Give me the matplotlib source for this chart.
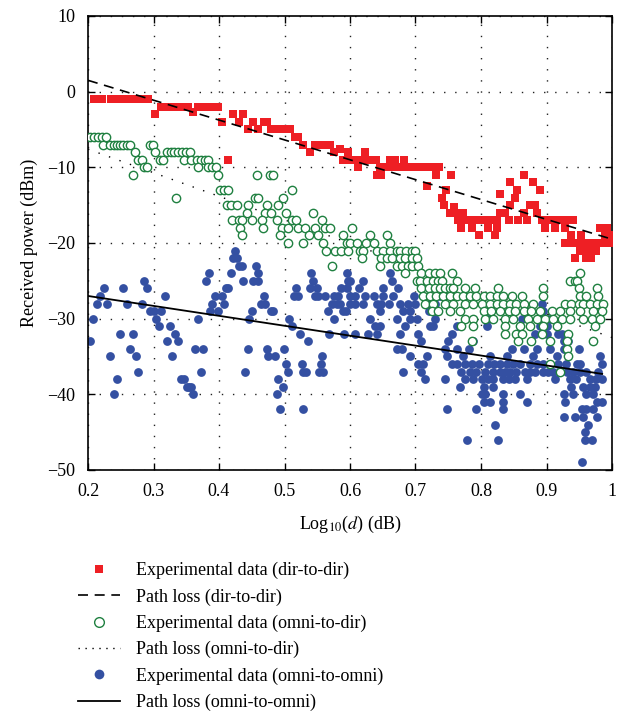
import numpy as np
import matplotlib
matplotlib.use("Agg")
import matplotlib.pyplot as plt
from matplotlib.lines import Line2D

plt.rcParams['font.family'] = ['Liberation Serif', 'DejaVu Serif']
plt.rcParams['mathtext.fontset'] = 'stix'

# dir-to-dir measurements (log10 d, dBm)
dd_pts = [
    (0.209, -1), (0.221, -1), (0.235, -1), (0.246, -1), (0.256, -1), (0.264, -1),
    (0.272, -1), (0.281, -1), (0.292, -1),
    (0.302, -3), (0.312, -2), (0.322, -2), (0.332, -2), (0.343, -2), (0.353, -2),
    (0.361, -2.7), (0.368, -2), (0.379, -2), (0.389, -2), (0.399, -2),
    (0.405, -4), (0.413, -9), (0.422, -3), (0.43, -4), (0.437, -3), (0.445, -5),
    (0.452, -4), (0.46, -5), (0.468, -4), (0.474, -4), (0.48, -5), (0.488, -5),
    (0.496, -5), (0.503, -5), (0.508, -5), (0.516, -6), (0.521, -6), (0.529, -7),
    (0.539, -8), (0.547, -7), (0.554, -7), (0.562, -7), (0.57, -7), (0.575, -8),
    (0.585, -7.6), (0.59, -9), (0.597, -8), (0.6, -9), (0.61, -9), (0.612, -10),
    (0.62, -9), (0.623, -8), (0.63, -9), (0.64, -9), (0.641, -11), (0.646, -10),
    (0.648, -11), (0.656, -10), (0.661, -9), (0.666, -10), (0.669, -9), (0.676, -10),
    (0.683, -9), (0.686, -10), (0.696, -10), (0.706, -10), (0.716, -10), (0.717, -12.5),
    (0.726, -10), (0.732, -11), (0.736, -10), (0.74, -14), (0.744, -15), (0.747, -13),
    (0.753, -16), (0.754, -11), (0.759, -15.3), (0.765, -16), (0.765, -17), (0.769, -18),
    (0.773, -16), (0.775, -17), (0.785, -17), (0.786, -18), (0.795, -17), (0.797, -19),
    (0.805, -17), (0.81, -17), (0.811, -18), (0.815, -17), (0.821, -19), (0.824, -18),
    (0.825, -17), (0.829, -13.5), (0.829, -16), (0.834, -16), (0.836, -16), (0.843, -17),
    (0.844, -12), (0.844, -15), (0.852, -14), (0.855, -13), (0.857, -17), (0.865, -11),
    (0.865, -16), (0.87, -17), (0.875, -15), (0.88, -12), (0.882, -15), (0.885, -16),
    (0.89, -13), (0.893, -17), (0.898, -18), (0.903, -17), (0.913, -17), (0.913, -18),
    (0.923, -17), (0.928, -20), (0.929, -18), (0.933, -17), (0.938, -19), (0.938, -20),
    (0.94, -17), (0.943, -22), (0.948, -20), (0.951, -21), (0.953, -19), (0.958, -20),
    (0.961, -22), (0.964, -21), (0.968, -20), (0.968, -22), (0.975, -21), (0.978, -20),
    (0.982, -18), (0.988, -20), (0.99, -19), (0.992, -18), (0.998, -20), (0.999, -19),
]

# omni-to-dir measurements
od_pts = [
    (0.203, -6), (0.209, -6), (0.216, -6), (0.221, -6), (0.228, -6),
    (0.223, -7), (0.234, -7), (0.239, -7), (0.244, -7), (0.249, -7), (0.254, -7),
    (0.259, -7), (0.264, -7), (0.295, -7), (0.299, -7),
    (0.272, -8), (0.302, -8), (0.32, -8), (0.326, -8), (0.332, -8), (0.338, -8),
    (0.344, -8), (0.35, -8), (0.356, -8),
    (0.277, -9), (0.282, -9), (0.31, -9), (0.314, -9), (0.347, -9), (0.358, -9),
    (0.366, -9), (0.372, -9), (0.378, -9), (0.383, -9),
    (0.286, -10), (0.29, -10), (0.368, -10), (0.383, -10), (0.389, -10), (0.395, -10),
    (0.268, -11), (0.398, -11), (0.458, -11), (0.478, -11), (0.483, -11),
    (0.401, -13), (0.408, -13), (0.414, -13), (0.511, -13),
    (0.335, -14), (0.455, -14), (0.46, -14), (0.498, -14),
    (0.412, -15), (0.419, -15), (0.427, -15), (0.444, -15), (0.473, -15), (0.49, -15),
    (0.442, -16), (0.47, -16), (0.48, -16), (0.503, -16), (0.544, -16),
    (0.42, -17), (0.43, -17), (0.435, -17), (0.45, -17), (0.465, -17), (0.488, -17),
    (0.512, -17), (0.518, -17), (0.557, -17),
    (0.432, -18), (0.467, -18), (0.496, -18), (0.505, -18), (0.521, -18), (0.532, -18),
    (0.546, -18), (0.562, -18), (0.57, -18), (0.603, -18),
    (0.435, -19), (0.493, -19), (0.537, -19), (0.551, -19), (0.59, -19), (0.63, -19),
    (0.656, -19),
    (0.506, -20), (0.529, -20), (0.559, -20), (0.595, -20), (0.6, -20), (0.61, -20),
    (0.625, -20), (0.636, -20), (0.661, -20),
    (0.564, -21), (0.577, -21), (0.587, -21), (0.597, -21), (0.615, -21), (0.62, -21),
    (0.641, -21), (0.651, -21), (0.661, -21), (0.671, -21), (0.676, -21), (0.685, -21),
    (0.694, -21), (0.699, -21),
    (0.618, -22), (0.648, -22), (0.656, -22), (0.664, -22), (0.676, -22), (0.684, -22),
    (0.694, -22), (0.702, -22),
    (0.572, -23), (0.646, -23), (0.671, -23), (0.679, -23), (0.689, -23), (0.694, -23),
    (0.704, -23),
    (0.684, -24), (0.709, -24), (0.72, -24), (0.73, -24), (0.737, -24), (0.755, -24),
    (0.951, -24),
    (0.702, -25), (0.707, -25), (0.717, -25), (0.727, -25), (0.735, -25), (0.74, -25),
    (0.763, -25), (0.936, -25), (0.944, -25), (0.946, -25),
    (0.709, -26), (0.72, -26), (0.73, -26), (0.737, -26), (0.745, -26), (0.753, -26),
    (0.758, -26), (0.776, -26), (0.791, -26), (0.826, -26), (0.895, -26), (0.949, -26),
    (0.977, -26),
    (0.712, -27), (0.722, -27), (0.732, -27), (0.742, -27), (0.753, -27), (0.763, -27),
    (0.773, -27), (0.783, -27), (0.793, -27), (0.804, -27), (0.814, -27), (0.824, -27),
    (0.834, -27), (0.847, -27), (0.862, -27), (0.895, -27), (0.951, -27), (0.961, -27),
    (0.979, -27),
    (0.715, -28), (0.727, -28), (0.745, -28), (0.758, -28), (0.776, -28), (0.788, -28),
    (0.801, -28), (0.814, -28), (0.824, -28), (0.834, -28), (0.844, -28), (0.854, -28),
    (0.865, -28), (0.88, -28), (0.928, -28), (0.938, -28), (0.949, -28), (0.956, -28),
    (0.966, -28), (0.977, -28), (0.987, -28),
    (0.725, -29), (0.735, -29), (0.753, -29), (0.768, -29), (0.804, -29), (0.816, -29),
    (0.829, -29), (0.842, -29), (0.852, -29), (0.865, -29), (0.877, -29), (0.89, -29),
    (0.908, -29), (0.921, -29), (0.936, -29), (0.951, -29), (0.971, -29), (0.984, -29),
    (0.776, -30), (0.788, -30), (0.806, -30), (0.819, -30), (0.837, -30), (0.849, -30),
    (0.872, -30), (0.885, -30), (0.898, -30), (0.91, -30), (0.923, -30), (0.936, -30),
    (0.956, -30), (0.969, -30), (0.982, -30),
    (0.77, -31), (0.788, -31), (0.837, -31), (0.86, -31), (0.875, -31), (0.895, -31),
    (0.916, -31), (0.974, -31),
    (0.837, -32), (0.854, -32), (0.862, -32), (0.893, -32), (0.933, -32),
    (0.786, -33), (0.857, -33), (0.877, -33), (0.905, -33), (0.931, -33), (0.971, -33),
    (0.931, -34), (0.933, -35), (0.905, -36), (0.921, -37),
]

# omni-to-omni measurements
oo_pts = [
    (0.203, -33), (0.208, -30), (0.213, -28), (0.218, -27), (0.224, -26), (0.229, -28),
    (0.234, -35), (0.239, -40), (0.244, -38), (0.249, -32), (0.254, -26), (0.259, -28),
    (0.264, -34), (0.268, -32), (0.273, -35), (0.277, -37), (0.282, -28), (0.286, -25),
    (0.29, -26), (0.295, -29), (0.3, -29), (0.304, -30), (0.308, -31), (0.312, -29),
    (0.317, -27), (0.321, -33), (0.325, -31), (0.329, -35), (0.333, -32), (0.338, -33),
    (0.342, -38), (0.346, -38), (0.351, -39), (0.354, -39), (0.357, -39), (0.36, -40),
    (0.364, -34), (0.375, -34), (0.368, -30), (0.372, -37), (0.38, -25), (0.384, -24),
    (0.386, -29), (0.39, -28), (0.394, -27), (0.398, -29), (0.404, -27), (0.407, -28),
    (0.41, -26), (0.414, -26), (0.418, -24), (0.422, -22), (0.427, -22), (0.424, -21),
    (0.43, -23), (0.435, -23), (0.437, -25), (0.44, -37), (0.444, -34), (0.446, -30),
    (0.45, -29), (0.452, -25), (0.459, -25), (0.456, -23), (0.459, -24), (0.464, -28),
    (0.47, -28), (0.468, -27), (0.473, -34), (0.475, -35), (0.485, -35), (0.479, -29),
    (0.483, -29), (0.488, -40), (0.49, -38), (0.493, -42), (0.497, -39), (0.499, -34),
    (0.502, -36), (0.505, -37), (0.507, -30), (0.511, -31), (0.514, -27), (0.52, -27),
    (0.518, -26), (0.524, -32), (0.526, -36), (0.529, -37), (0.533, -37), (0.529, -42),
    (0.536, -33), (0.54, -24), (0.543, -25), (0.539, -26), (0.549, -26), (0.546, -27),
    (0.551, -27), (0.553, -37), (0.559, -37), (0.556, -36), (0.558, -35), (0.562, -27),
    (0.566, -29), (0.568, -32), (0.572, -28), (0.575, -30), (0.576, -27), (0.582, -27),
    (0.58, -28), (0.585, -28), (0.587, -26), (0.595, -26), (0.59, -29), (0.594, -29),
    (0.591, -32), (0.595, -24), (0.597, -25),
    (0.661, -24),
    (0.6, -25), (0.62, -25), (0.664, -25),
    (0.614, -26), (0.651, -26), (0.674, -26),
    (0.6, -27), (0.608, -27), (0.623, -27), (0.636, -27), (0.651, -27), (0.666, -27),
    (0.697, -27), (0.737, -27),
    (0.6, -28), (0.608, -28), (0.62, -28), (0.641, -28), (0.648, -28), (0.659, -28),
    (0.676, -28), (0.689, -28), (0.699, -28), (0.72, -28), (0.73, -28), (0.788, -28),
    (0.893, -28),
    (0.646, -29), (0.681, -29), (0.692, -29), (0.72, -29), (0.732, -29), (0.895, -29),
    (0.631, -30), (0.671, -30), (0.692, -30), (0.702, -30), (0.73, -30), (0.811, -30),
    (0.862, -30), (0.888, -30), (0.895, -30), (0.905, -30),
    (0.638, -31), (0.646, -31), (0.684, -31), (0.722, -31), (0.727, -31), (0.763, -31),
    (0.809, -31), (0.89, -31), (0.9, -31),
    (0.608, -32), (0.628, -32), (0.641, -32), (0.676, -32), (0.704, -32), (0.755, -32),
    (0.86, -32), (0.882, -32), (0.9, -32), (0.918, -32), (0.923, -32),
    (0.709, -33), (0.75, -33), (0.788, -33), (0.877, -33), (0.926, -33), (0.933, -33),
    (0.671, -34), (0.679, -34), (0.745, -34), (0.763, -34), (0.781, -34), (0.847, -34),
    (0.865, -34), (0.885, -34), (0.905, -34), (0.926, -34), (0.949, -34),
    (0.692, -35), (0.717, -35), (0.748, -35), (0.773, -35), (0.814, -35), (0.839, -35),
    (0.88, -35), (0.916, -35), (0.982, -35),
    (0.704, -36), (0.712, -36), (0.755, -36), (0.763, -36), (0.776, -36), (0.786, -36),
    (0.797, -36), (0.811, -36), (0.82, -36), (0.829, -36), (0.839, -36), (0.849, -36),
    (0.86, -36), (0.875, -36), (0.885, -36), (0.895, -36), (0.918, -36), (0.93, -36),
    (0.946, -36), (0.951, -36), (0.984, -36),
    (0.681, -37), (0.709, -37), (0.77, -37), (0.783, -37), (0.793, -37), (0.806, -37),
    (0.819, -37), (0.829, -37), (0.837, -37), (0.844, -37), (0.854, -37), (0.867, -37),
    (0.875, -37), (0.882, -37), (0.895, -37), (0.903, -37), (0.91, -37), (0.931, -37),
    (0.941, -37), (0.951, -37), (0.96, -37), (0.979, -37),
    (0.715, -38), (0.745, -38), (0.776, -38), (0.788, -38), (0.801, -38), (0.81, -38),
    (0.819, -38), (0.834, -38), (0.843, -38), (0.852, -38), (0.87, -38), (0.913, -38),
    (0.936, -38), (0.945, -38), (0.966, -38), (0.975, -38), (0.984, -38),
    (0.768, -39), (0.805, -39), (0.819, -39), (0.938, -39), (0.956, -39), (0.966, -39),
    (0.974, -39),
    (0.801, -40), (0.806, -40), (0.834, -40), (0.86, -40), (0.926, -40), (0.941, -40),
    (0.961, -40), (0.971, -40),
    (0.804, -41), (0.814, -41), (0.834, -41), (0.87, -41), (0.928, -41), (0.977, -41),
    (0.984, -41),
    (0.748, -42), (0.792, -42), (0.834, -42), (0.954, -42), (0.961, -42), (0.971, -42),
    (0.926, -43), (0.944, -43), (0.956, -43), (0.977, -43),
    (0.821, -44), (0.964, -44), (0.959, -45),
    (0.778, -46), (0.826, -46), (0.959, -46), (0.969, -46), (0.954, -49),
]

# fitted path loss lines: (start x, start dBm), (end x, end dBm)
pl_dd_x = [0.2, 1.0]
pl_dd_y = [1.5, -19.5]
pl_od_x = [0.2, 1.0]
pl_od_y = [-7.6, -32.5]
pl_oo_x = [0.2, 0.985]
pl_oo_y = [-27.0, -37.3]

xticks = [0.2, 0.3, 0.4, 0.5, 0.6, 0.7, 0.8, 0.9, 1.0]
xticklabels = ['0.2', '0.3', '0.4', '0.5', '0.6', '0.7', '0.8', '0.9', '1']
yticks = [10, 0, -10, -20, -30, -40, -50]

labels = ['Experimental data (dir-to-dir)', 'Path loss (dir-to-dir)',
          'Experimental data (omni-to-dir)', 'Path loss (omni-to-dir)',
          'Experimental data (omni-to-omni)', 'Path loss (omni-to-omni)']

red = '#ee1f24'
green = '#1f8040'
blue = '#3450a2'

fig = plt.figure(figsize=(6.32, 7.11), dpi=100)
ax = fig.add_axes([88 / 632, 1 - 470 / 711, 524 / 632, 454 / 711])

dd = np.array(dd_pts)
od = np.array(od_pts)
oo = np.array(oo_pts)

ax.plot(pl_dd_x, pl_dd_y, color='k', lw=1.2, ls=(0, (6, 4)), zorder=4)
ax.plot(pl_od_x, pl_od_y, color='k', lw=1.0, ls=(0, (1, 7)), zorder=1)
ax.scatter(oo[:, 0], oo[:, 1], s=40, marker='o', color=blue, lw=0, zorder=2)
ax.scatter(od[:, 0], od[:, 1], s=36, marker='o', facecolors='white',
           edgecolors=green, linewidths=1.0, zorder=3)
ax.scatter(dd[:, 0], dd[:, 1], s=32, marker='s', color=red, lw=0, zorder=3)
ax.plot(pl_oo_x, pl_oo_y, color='k', lw=1.3, zorder=4)

ax.set_xlim(0.2, 1.0)
ax.set_ylim(-50, 10)
ax.set_xticks(xticks)
ax.set_xticklabels(xticklabels)
ax.set_yticks(yticks)
ax.tick_params(direction='in', top=True, right=True, length=5, width=1,
               labelsize=13, pad=9)
ax.grid(True, color='#222222', lw=1.0, ls=(0, (1, 7)))
for sp in ax.spines.values():
    sp.set_linewidth(1.2)

ax.set_xlabel('Log$_{10}$($d$) (dB)', fontsize=13, labelpad=10)
ax.set_ylabel('Received power (dBm)', fontsize=13, labelpad=7)

handles = [
    Line2D([], [], ls='none', marker='s', ms=6, color=red, mew=0),
    Line2D([], [], color='k', lw=1.2, ls=(0, (6, 4))),
    Line2D([], [], ls='none', marker='o', ms=7, mfc='white', mec=green, mew=1.0),
    Line2D([], [], color='k', lw=1.0, ls=(0, (1, 4))),
    Line2D([], [], ls='none', marker='o', ms=7, color=blue, mew=0),
    Line2D([], [], color='k', lw=1.3),
]
fig.legend(handles, labels, loc='upper left', bbox_to_anchor=(78 / 632, 1 - 562 / 711),
           frameon=False, fontsize=13, handlelength=2.3, handletextpad=0.9,
           labelspacing=0.5, borderpad=0, borderaxespad=0)

fig.savefig('out.png', dpi=100)
